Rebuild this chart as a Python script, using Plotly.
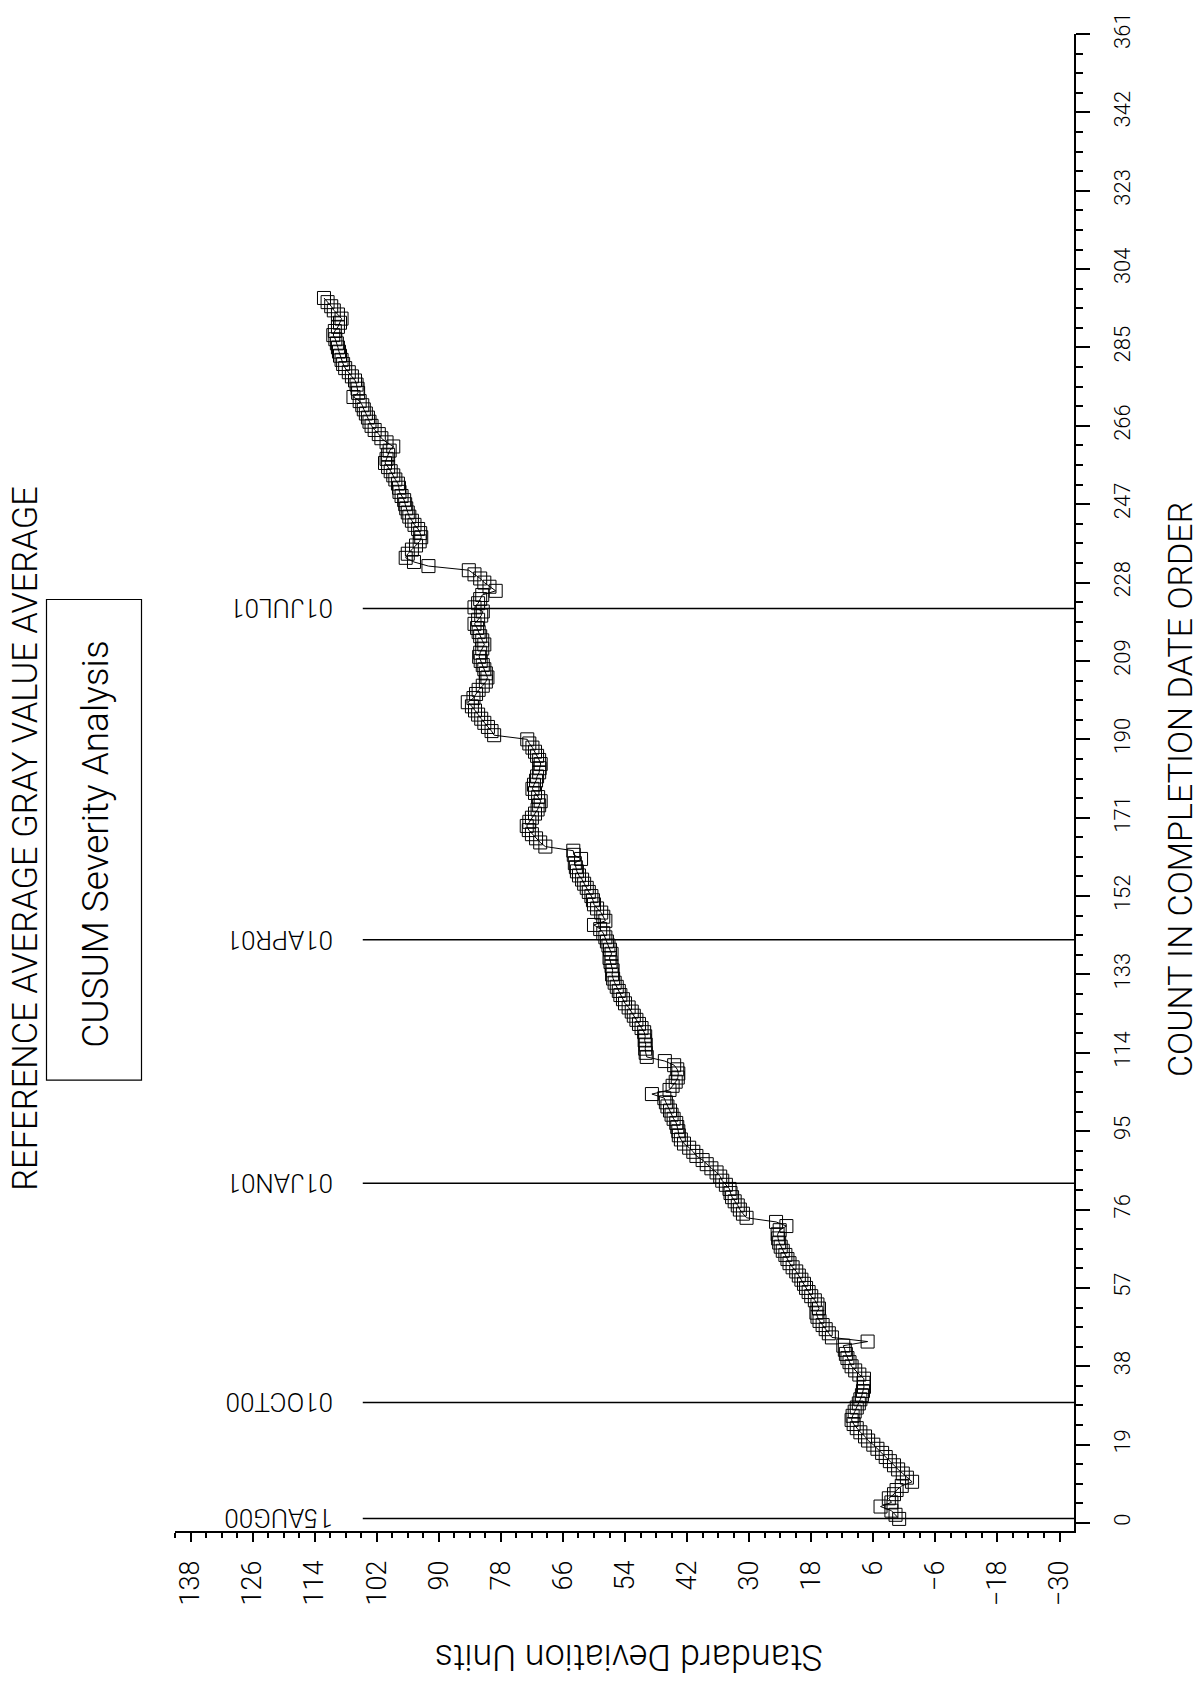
import plotly.graph_objects as go

# CUSUM of the reference average gray value, one value per record in completion order
cusum = [
    1.0, 1.7, 2.5, 4.6, 2.5, 3.0, 2.0, 1.5, 0.5, -1.5,
    -0.5, 0.3, 1.2, 2.0, 2.8, 3.6, 4.3, 5.2, 6.0, 7.0,
    7.6, 8.5, 9.2, 9.8, 10.2, 10.0, 9.6, 9.2, 8.8, 8.5,
    8.2, 8.0, 7.8, 7.9, 7.8, 8.7, 9.5, 10.2, 10.6, 11.0,
    11.3, 11.5, 11.8, 7.1, 14.0, 14.6, 15.2, 15.8, 16.4, 16.8,
    17.0, 16.5, 16.8, 17.3, 18.0, 18.5, 19.0, 19.4, 19.9, 20.4,
    20.9, 21.6, 22.2, 22.6, 23.0, 23.5, 23.9, 24.2, 24.4, 24.5,
    24.1, 22.8, 24.8, 30.5, 31.2, 31.8, 32.2, 32.8, 33.3, 33.6,
    33.8, 34.5, 35.2, 35.6, 36.3, 37.3, 38.2, 39.0, 40.2, 40.8,
    41.6, 42.6, 43.2, 43.6, 43.7, 43.9, 44.1, 44.6, 45.0, 45.3,
    45.8, 46.1, 46.4, 48.8, 45.4, 44.8, 44.2, 43.8, 43.7, 43.9,
    44.5, 46.3, 49.8, 50.0, 50.1, 50.0, 50.2, 50.1, 50.3, 50.8,
    51.3, 51.8, 52.3, 52.7, 53.3, 54.0, 54.4, 54.9, 55.2, 55.6,
    56.0, 56.3, 56.5, 56.4, 56.6, 56.8, 57.0, 56.6, 56.9, 57.2,
    57.5, 57.8, 58.2, 58.8, 60.0, 57.8, 58.2, 58.6, 59.4, 60.0,
    60.2, 60.5, 61.0, 61.4, 61.9, 62.3, 62.9, 63.3, 63.5, 63.7,
    62.5, 63.9, 64.0, 69.4, 70.4, 71.2, 72.0, 72.6, 73.0, 72.5,
    72.0, 71.4, 70.9, 70.6, 70.3, 70.8, 71.4, 71.9, 71.6, 71.2,
    71.0, 70.6, 70.5, 70.3, 70.6, 71.0, 71.4, 71.9, 72.5, 72.9,
    79.3, 79.8, 80.5, 81.2, 81.8, 82.4, 83.0, 83.6, 84.4, 83.3,
    82.8, 82.3, 81.5, 80.9, 80.6, 80.9, 81.2, 81.5, 81.9, 82.2,
    82.0, 81.6, 81.2, 81.6, 82.0, 82.3, 82.6, 83.1, 82.4, 81.8,
    81.5, 83.1, 82.4, 82.0, 81.6, 79.0, 80.2, 81.2, 82.0, 83.1,
    84.2, 92.0, 94.8, 96.4, 96.0, 95.2, 94.4, 93.7, 93.4, 93.6,
    94.0, 94.7, 95.2, 95.7, 96.0, 96.3, 96.5, 96.7, 97.2, 97.6,
    97.7, 97.9, 98.4, 98.8, 99.3, 99.8, 100.4, 100.1, 99.8, 99.5,
    98.8, 100.1, 101.1, 101.6, 102.4, 103.0, 103.4, 103.7, 104.1, 104.5,
    104.8, 105.3, 106.5, 105.6, 105.7, 105.9, 106.2, 106.8, 107.4, 108.1,
    108.5, 108.8, 109.1, 109.3, 109.5, 109.7, 110.0, 110.4, 110.1, 109.5,
    109.1, 108.8, 109.5, 110.3, 110.8, 111.5, 112.2,
]
count = list(range(1, len(cusum) + 1))

# reference dates and the count at which each one starts
date_labels = ["15AUG00", "01OCT00", "01JAN01", "01APR01", "01JUL01"]
date_counts = [1.1, 29.2, 82.4, 141.4, 221.7]

sd_ticks = [138, 126, 114, 102, 90, 78, 66, 54, 42, 30, 18, 6, -6, -18, -30]
sd_ticktext = [str(v) if v >= 0 else "\u2212" + str(-v) for v in sd_ticks]
count_ticks = [0, 19, 38, 57, 76, 95, 114, 133, 152, 171, 190, 209, 228, 247,
               266, 285, 304, 323, 342, 361]

W, H = 1200, 1684
L, R, T, B = 175, 1074, 30, 1531
FONT = "Roboto, Liberation Sans, Arial, sans-serif"
WT = 300


def xp(px):
    return (px - L) / (R - L)


def yp(py):
    return (B - py) / (B - T)


def f(size):
    return dict(size=size, color="black", family=FONT, weight=WT)


fig = go.Figure()
fig.add_trace(go.Scatter(
    x=cusum, y=count, mode="lines+markers",
    line=dict(color="black", width=1),
    marker=dict(symbol="square-open", size=13, color="black",
                line=dict(color="black", width=1)),
    showlegend=False, hoverinfo="skip",
))

shapes = []
annotations = []
for lab, c in zip(date_labels, date_counts):
    shapes.append(dict(type="line", xref="x", yref="y", x0=104.7, x1=-32.8,
                       y0=c, y1=c, line=dict(color="black", width=1.5)))
    annotations.append(dict(text=lab, xref="paper", yref="y", x=xp(335), y=c,
                            xanchor="right", yanchor="middle", textangle=180,
                            showarrow=False, font=f(26)))

# boxed subtitle
shapes.append(dict(type="rect", xref="paper", yref="paper",
                   x0=xp(46.5), x1=xp(141.5), y0=yp(1079), y1=yp(597),
                   line=dict(color="black", width=1.2), fillcolor="rgba(0,0,0,0)"))
annotations.append(dict(text="CUSUM Severity Analysis", xref="paper", yref="paper",
                        x=xp(96), y=yp(842), xanchor="center", yanchor="middle",
                        textangle=-90, showarrow=False, font=f(37)))
annotations.append(dict(text="REFERENCE AVERAGE GRAY VALUE AVERAGE", xref="paper", yref="paper",
                        x=xp(25), y=yp(837), xanchor="center", yanchor="middle",
                        textangle=-90, showarrow=False, font=f(34.5)))
annotations.append(dict(text="COUNT IN COMPLETION DATE ORDER", xref="paper", yref="paper",
                        x=xp(1180), y=yp(788), xanchor="center", yanchor="middle",
                        textangle=-90, showarrow=False, font=f(34)))
annotations.append(dict(text="Standard Deviation Units", xref="paper", yref="paper",
                        x=xp(629), y=yp(1658), xanchor="center", yanchor="middle",
                        textangle=180, showarrow=False, font=f(36)))

fig.update_layout(
    width=W, height=H, autosize=False,
    margin=dict(l=L, r=W - R, t=T, b=H - B, pad=0),
    paper_bgcolor="white", plot_bgcolor="white",
    font=dict(family=FONT, color="black"),
    shapes=shapes, annotations=annotations,
    xaxis=dict(
        range=[141, -32.8], tickvals=sd_ticks, ticktext=sd_ticktext,
        showgrid=False, zeroline=False, showline=True, linecolor="black", linewidth=1.5,
        ticks="outside", ticklen=9, tickwidth=1.5, tickcolor="black",
        tickangle=-90, tickfont=f(27),
        ticklabelstandoff=8,
        minor=dict(dtick=3, tick0=0, ticks="outside", ticklen=5, tickwidth=1.5,
                   tickcolor="black", showgrid=False),
    ),
    yaxis=dict(
        range=[-1.93, 361], side="right", tickvals=count_ticks,
        showgrid=False, zeroline=False, showline=True, linecolor="black", linewidth=1.5,
        ticks="outside", ticklen=14, tickwidth=1.5, tickcolor="black",
        tickangle=-90, tickfont=f(22),
        ticklabelstandoff=14,
        minor=dict(dtick=4.75, tick0=0, ticks="outside", ticklen=7, tickwidth=1.5,
                   tickcolor="black", showgrid=False),
    ),
)

fig.write_html("out.html")
